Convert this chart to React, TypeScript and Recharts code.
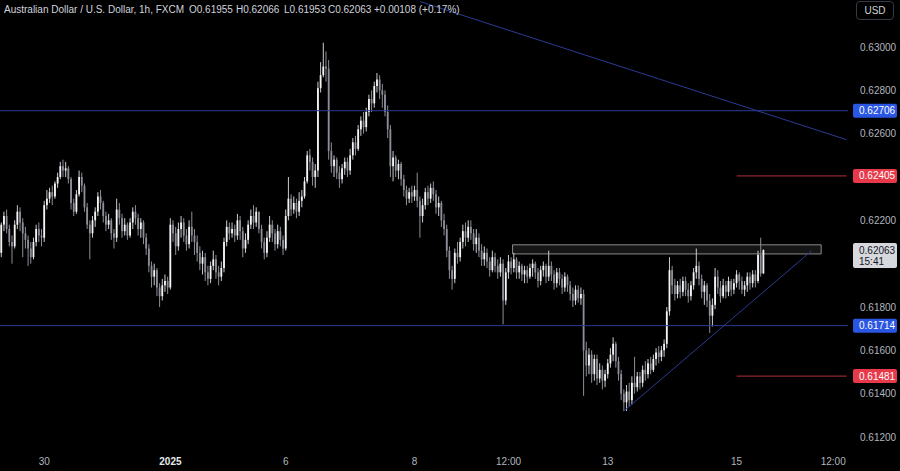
import React from "react";
import { ComposedChart, Bar, XAxis, YAxis, ReferenceLine, ReferenceArea } from "recharts";

// AUD/USD 1h candles (open = previous close)
const FIRST_OPEN = 0.6205;

const closes = [
  0.6218, 0.6222, 0.6216, 0.621, 0.6208, 0.6218, 0.6224, 0.6219, 0.6214, 0.6211,
  0.6207, 0.6203, 0.621, 0.6216, 0.6213, 0.6212, 0.6227, 0.623, 0.6233, 0.6231,
  0.6237, 0.624, 0.6245, 0.6243, 0.6244, 0.6239, 0.6228, 0.6224, 0.6232, 0.624,
  0.6236, 0.6226, 0.6218, 0.6214, 0.622, 0.6224, 0.6231, 0.6228, 0.6222, 0.6218,
  0.622, 0.6214, 0.6212, 0.6225, 0.6221, 0.6215, 0.6218, 0.6213, 0.6219, 0.6224,
  0.6221, 0.6216, 0.6219, 0.6212, 0.6207, 0.6199, 0.6194, 0.6197, 0.6189, 0.6185,
  0.619, 0.6192, 0.6189, 0.6218, 0.6214, 0.6208, 0.6216, 0.6219, 0.6213, 0.6209,
  0.6217, 0.6213, 0.621, 0.6205, 0.62, 0.6203, 0.6196, 0.6193, 0.6199, 0.6202,
  0.6196, 0.6194, 0.6198, 0.621, 0.6217, 0.6214, 0.6216, 0.6213, 0.622, 0.6215,
  0.6207, 0.6211, 0.6218, 0.6222, 0.6219, 0.6224, 0.6216, 0.621, 0.6205, 0.6212,
  0.6218, 0.6214, 0.6209, 0.6215, 0.6211, 0.6207, 0.6222, 0.623, 0.6225, 0.6228,
  0.6224, 0.6229, 0.6231, 0.6238, 0.625, 0.6247, 0.624, 0.6243, 0.6281, 0.6287,
  0.6291, 0.629, 0.6252, 0.6245, 0.6248, 0.6242, 0.6239, 0.6244, 0.6247, 0.6243,
  0.625, 0.6256, 0.6253, 0.6262, 0.6266, 0.6263, 0.627, 0.6276, 0.6274, 0.6282,
  0.6285, 0.628, 0.6278, 0.627, 0.6262, 0.6245, 0.6249, 0.6243, 0.6246, 0.6239,
  0.6234, 0.623, 0.6233, 0.6231, 0.6234, 0.6229, 0.6222, 0.6227, 0.6233, 0.623,
  0.6235, 0.6232, 0.6226, 0.6228, 0.622, 0.6216, 0.6206, 0.6197, 0.6193, 0.6205,
  0.6203, 0.621, 0.6215, 0.6212, 0.6217, 0.6214, 0.6209, 0.6212, 0.6206, 0.6202,
  0.6205, 0.6201, 0.6197, 0.6203, 0.6199, 0.6196, 0.62, 0.6183, 0.6196, 0.6201,
  0.6198, 0.6202, 0.6196, 0.6199, 0.6195, 0.6197, 0.6194, 0.6198, 0.62, 0.6196,
  0.6192, 0.6197, 0.6199, 0.6194, 0.6199, 0.6195, 0.6191, 0.6196, 0.6193, 0.6189,
  0.6194, 0.619, 0.6186, 0.6183, 0.6188, 0.6184, 0.6186, 0.616, 0.6153, 0.6158,
  0.6149, 0.6156, 0.6147, 0.6151, 0.6146, 0.6149, 0.6154, 0.6158, 0.6163, 0.6155,
  0.6149, 0.614, 0.6136, 0.6141, 0.6137, 0.6145, 0.6143, 0.6148, 0.6145, 0.6151,
  0.6149, 0.6154, 0.6151, 0.6156, 0.6159, 0.6157, 0.616, 0.6163, 0.6178, 0.6197,
  0.619, 0.6186, 0.619, 0.6187, 0.6192, 0.6188, 0.6185, 0.619, 0.6196, 0.6199,
  0.6193, 0.6187, 0.619, 0.6183, 0.6176, 0.6181, 0.6194, 0.6189, 0.6185, 0.619,
  0.6187, 0.6192, 0.6188, 0.6191, 0.6195, 0.6192, 0.6188, 0.619, 0.6194, 0.6191,
  0.6195, 0.6192, 0.6204, 0.61955, 0.62063,
];

const highs = [
  0.6219, 0.6224, 0.6225, 0.6218, 0.6213, 0.622, 0.6227, 0.6226, 0.6221, 0.6217,
  0.6213, 0.621, 0.6212, 0.6218, 0.6219, 0.6216, 0.6229, 0.6234, 0.6235, 0.6236,
  0.6238, 0.6242, 0.6247, 0.6248, 0.6247, 0.6245, 0.624, 0.623, 0.6234, 0.6243,
  0.6242, 0.6237, 0.6228, 0.622, 0.6222, 0.6226, 0.6233, 0.6234, 0.6229, 0.6224,
  0.6223, 0.6221, 0.6216, 0.623, 0.6228, 0.6223, 0.6221, 0.6219, 0.6221, 0.6226,
  0.6227, 0.6223, 0.6221, 0.622, 0.6214, 0.6209, 0.6201, 0.62, 0.6198, 0.6191,
  0.6193, 0.6195, 0.6194, 0.6221, 0.622, 0.6217, 0.6219, 0.6222, 0.6221, 0.6216,
  0.622, 0.6224, 0.6216, 0.6213, 0.6208, 0.6206, 0.6205, 0.6199, 0.6201, 0.6206,
  0.6204, 0.6199, 0.6201, 0.6212, 0.622, 0.6219, 0.6219, 0.6218, 0.6223, 0.6222,
  0.6217, 0.6214, 0.622, 0.6225, 0.6227, 0.6226, 0.6224, 0.6218, 0.6212, 0.6215,
  0.6222, 0.622, 0.6216, 0.6218, 0.6217, 0.6213, 0.6225, 0.624, 0.6232, 0.6231,
  0.623, 0.6233, 0.6234, 0.624, 0.6252, 0.6253, 0.6249, 0.6246, 0.6284, 0.6293,
  0.6302, 0.6298, 0.6294, 0.6256, 0.625, 0.6249, 0.6245, 0.6246, 0.6249, 0.6249,
  0.6253, 0.6258, 0.6259, 0.6264, 0.6268, 0.627, 0.6272, 0.6278, 0.628, 0.6284,
  0.6288, 0.6287, 0.6283, 0.628, 0.6273, 0.6264, 0.6252, 0.625, 0.6248, 0.6247,
  0.6241, 0.6236, 0.6235, 0.6236, 0.6236, 0.6242, 0.6231, 0.623, 0.6235, 0.6236,
  0.6237, 0.6238, 0.6234, 0.6231, 0.6229, 0.6223, 0.6218, 0.6208, 0.6199, 0.6207,
  0.621, 0.6212, 0.6218, 0.6219, 0.622, 0.622, 0.6216, 0.6216, 0.6214, 0.6209,
  0.6208, 0.6207, 0.6203, 0.6206, 0.6205, 0.6202, 0.6203, 0.6202, 0.6198, 0.6204,
  0.6203, 0.6205, 0.6203, 0.6201, 0.62, 0.6199, 0.6199, 0.62, 0.6202, 0.6201,
  0.6198, 0.6199, 0.6201, 0.62, 0.6206, 0.6201, 0.6197, 0.6198, 0.6198, 0.6195,
  0.6196, 0.6195, 0.6192, 0.6189, 0.619, 0.619, 0.6189, 0.6188, 0.6164, 0.6161,
  0.616, 0.6158, 0.6158, 0.6154, 0.6153, 0.6151, 0.6156, 0.6161, 0.6166, 0.6164,
  0.6157, 0.6151, 0.6142, 0.6144, 0.6145, 0.6148, 0.6157, 0.615, 0.615, 0.6153,
  0.6155, 0.6156, 0.6157, 0.6158, 0.6161, 0.6162, 0.6162, 0.6165, 0.618, 0.6203,
  0.6199, 0.6193, 0.6192, 0.6193, 0.6194, 0.6194, 0.6191, 0.6192, 0.6198, 0.6207,
  0.6201, 0.6195, 0.6192, 0.6191, 0.6186, 0.6184, 0.6198, 0.6197, 0.6192, 0.6193,
  0.6192, 0.6194, 0.6193, 0.6193, 0.6197, 0.6196, 0.6194, 0.6192, 0.6196, 0.6196,
  0.6197, 0.6197, 0.6206, 0.6212, 0.62066,
];

const lows = [
  0.6203, 0.6215, 0.6214, 0.6208, 0.62, 0.6207, 0.6216, 0.6215, 0.6203, 0.6207,
  0.6199, 0.62, 0.6202, 0.6208, 0.621, 0.6208, 0.621, 0.6225, 0.6228, 0.6227,
  0.623, 0.6235, 0.6239, 0.624, 0.624, 0.6237, 0.6225, 0.6222, 0.6223, 0.6231,
  0.6233, 0.6224, 0.6216, 0.6202, 0.6212, 0.6217, 0.6222, 0.6225, 0.6219, 0.6215,
  0.6216, 0.6211, 0.6207, 0.621, 0.6218, 0.6212, 0.6213, 0.6211, 0.6212, 0.6216,
  0.6218, 0.6213, 0.6212, 0.6209, 0.6204, 0.6196, 0.6189, 0.619, 0.6185, 0.618,
  0.6183, 0.6187, 0.6186, 0.6188, 0.621, 0.6204, 0.6206, 0.6212, 0.621, 0.6206,
  0.6207, 0.621, 0.6204, 0.6201, 0.6197, 0.6195, 0.6192, 0.619, 0.6191, 0.6197,
  0.6193, 0.619, 0.6192, 0.6196, 0.6208, 0.6211, 0.6212, 0.621, 0.6211, 0.6211,
  0.6203, 0.6205, 0.6209, 0.6216, 0.6216, 0.6217, 0.6214, 0.6207, 0.6202, 0.6203,
  0.621, 0.621, 0.6206, 0.6207, 0.6208, 0.6204, 0.6206, 0.622, 0.6222, 0.6223,
  0.6221, 0.6222, 0.6226, 0.623, 0.6237, 0.6243, 0.6236, 0.6235, 0.624, 0.6279,
  0.6286, 0.6284, 0.6248, 0.6242, 0.624, 0.6239, 0.6235, 0.6237, 0.6241, 0.624,
  0.6241, 0.6248, 0.625, 0.6252, 0.6259, 0.626, 0.6261, 0.6268, 0.627, 0.6272,
  0.6279, 0.6276, 0.6272, 0.6268, 0.6258, 0.624, 0.6238, 0.624, 0.6239, 0.6236,
  0.6231, 0.6227, 0.6228, 0.6228, 0.6229, 0.6226, 0.6212, 0.6219, 0.6225, 0.6227,
  0.6228, 0.6229, 0.6223, 0.6222, 0.6217, 0.6213, 0.6203, 0.6193, 0.6188, 0.6191,
  0.62, 0.6201, 0.6207, 0.6208, 0.621, 0.6211, 0.6206, 0.6205, 0.6203, 0.6199,
  0.6199, 0.6198, 0.6194, 0.6196, 0.6196, 0.6193, 0.6194, 0.6172, 0.6181, 0.6193,
  0.6195, 0.6196, 0.6193, 0.6193, 0.6192, 0.6191, 0.6191, 0.6193, 0.6194, 0.6193,
  0.6189, 0.619, 0.6194, 0.6191, 0.6192, 0.6192, 0.6188, 0.6189, 0.619, 0.6186,
  0.6187, 0.6187, 0.6183, 0.618, 0.6181, 0.6182, 0.6181, 0.6139, 0.6148, 0.6149,
  0.6145, 0.6146, 0.6144, 0.6145, 0.6142, 0.6143, 0.6147, 0.6152, 0.6155, 0.6152,
  0.6146, 0.6137, 0.6132, 0.6132, 0.6134, 0.6135, 0.614, 0.6141, 0.6142, 0.6143,
  0.6146, 0.6147, 0.6149, 0.615, 0.6153, 0.6154, 0.6155, 0.6157, 0.6161, 0.6176,
  0.6186, 0.6183, 0.6184, 0.6184, 0.6185, 0.6185, 0.6182, 0.6183, 0.6188, 0.6193,
  0.619, 0.6184, 0.6181, 0.618, 0.6168, 0.6171, 0.6179, 0.6186, 0.6182, 0.6184,
  0.6184, 0.6185, 0.6185, 0.6186, 0.6189, 0.6188, 0.6186, 0.6185, 0.6187, 0.6188,
  0.6189, 0.6189, 0.6191, 0.6194, 0.61953,
];

// hourly slots on screen, including the empty space right of the last bar
const SLOTS = 316;

const xTickIdx = [16, 63, 106, 154, 189, 226, 274, 310];
const xTickLabels = ["30", "2025", "6", "8", "12:00", "13", "15", "12:00"];
const yTicks = [0.63, 0.628, 0.626, 0.622, 0.618, 0.616, 0.614, 0.612];

const blueLevels = [0.62706, 0.61714];
const redLevels = [0.62405, 0.61481];
const lastPrice = 0.62063;
const countdown = "15:41";

const header = [
  { x: 4, text: "Australian Dollar / U.S. Dollar, 1h, FXCM" },
  { x: 189, text: "O0.61955" },
  { x: 236, text: "H0.62066" },
  { x: 284, text: "L0.61953" },
  { x: 328, text: "C0.62063" },
  { x: 374, text: "+0.00108 (+0.17%)" },
];

const FONT = "'Liberation Sans', Arial, sans-serif";
const LINE_BLUE = "#2b3a94";
const LINE_RED = "#b3303b";

const data = Array.from({ length: SLOTS }, (_, i) => {
  if (i >= closes.length) return { i };
  const o = i === 0 ? FIRST_OPEN : closes[i - 1];
  return { i, o, h: highs[i], l: lows[i], c: closes[i], range: [lows[i], highs[i]] };
});

function Candle(props: any) {
  const { x, y, width, height, payload } = props;
  if (!payload || payload.c == null) return null;
  const { o, h, l, c } = payload;
  const top = Math.min(y, y + height);
  const span = Math.abs(height);
  const cx = x + width / 2;
  const k = h === l ? 0 : span / (h - l);
  const py = (v: number) => top + (h - v) * k;
  const bTop = py(Math.max(o, c));
  const bBot = py(Math.min(o, c));
  const up = c >= o;
  const bw = 1.8;
  return (
    <g>
      <line x1={cx} x2={cx} y1={top} y2={top + span} stroke={up ? "#c9cbd1" : "#8c8f98"} strokeWidth={1} />
      <rect x={cx - bw / 2} y={bTop} width={bw} height={Math.max(1, bBot - bTop)} fill={up ? "#f4f4f4" : "#8c8f98"} />
    </g>
  );
}

function XTick(props: any) {
  const { x, payload } = props;
  const label = xTickLabels[xTickIdx.indexOf(payload.value)];
  const strong = label === "2025";
  return (
    <text x={x} y={465} textAnchor="middle" fontSize={10} fontFamily={FONT}
      fontWeight={strong ? 700 : 400} fill={strong ? "#e6e8ee" : "#b2b5be"}>
      {label}
    </text>
  );
}

function YTick(props: any) {
  const { y, payload } = props;
  return (
    <text x={860} y={y + 3.5} fontSize={10} fontFamily={FONT} fill="#b2b5be">
      {Number(payload.value).toFixed(5)}
    </text>
  );
}

function PriceTag(props: any) {
  const { viewBox, text, sub, bg, color } = props;
  if (!viewBox) return null;
  const y = viewBox.y;
  const x = viewBox.x + viewBox.width + 5;
  return (
    <g>
      <rect x={x} y={y - 7} width={44} height={sub ? 25 : 14} rx={2} fill={bg} />
      <text x={x + 6} y={y + 3.5} fontSize={10} fontFamily={FONT} fill={color}>{text}</text>
      {sub && (
        <text x={x + 6} y={y + 14.5} fontSize={10} fontFamily={FONT} fill={color}>{sub}</text>
      )}
    </g>
  );
}

export default function App() {
  return (
    <div style={{ position: "absolute", left: 0, top: 0, width: 900, height: 471, background: "#000", overflow: "hidden" }}>
      <ComposedChart width={900} height={471} data={data} margin={{ top: 0, right: 0, bottom: 0, left: 0 }}>
        <XAxis dataKey="i" type="category" ticks={xTickIdx} interval={0} height={21}
          axisLine={false} tickLine={false} tick={<XTick />} />
        <YAxis orientation="right" type="number" domain={[0.6114, 0.63217]} allowDataOverflow
          ticks={yTicks} interval={0} width={52} axisLine={false} tickLine={false} tick={<YTick />} />

        {blueLevels.map((v) => (
          <ReferenceLine key={"b" + v} y={v} stroke={LINE_BLUE} strokeWidth={1} />
        ))}
        {redLevels.map((v) => (
          <ReferenceLine key={"r" + v} segment={[{ x: 274, y: v }, { x: SLOTS - 1, y: v }]} stroke={LINE_RED} strokeWidth={1} />
        ))}

        {/* descending trendline from the highs */}
        <ReferenceLine segment={[{ x: 156, y: 0.6321 }, { x: SLOTS - 1, y: 0.62572 }]} stroke={LINE_BLUE} strokeWidth={1} />
        {/* ascending trendline from the 13th low */}
        <ReferenceLine segment={[{ x: 232, y: 0.6132 }, { x: 302, y: 0.6206 }]} stroke={LINE_BLUE} strokeWidth={1} />

        <Bar dataKey="range" shape={<Candle />} isAnimationActive={false} />

        <ReferenceArea x1={191} x2={305} y1={0.62045} y2={0.62087} fill="#3c3c3c" fillOpacity={0.35}
          stroke="#8a8a8a" strokeWidth={1} />

        {blueLevels.map((v) => (
          <ReferenceLine key={"bt" + v} y={v} strokeOpacity={0}
            label={<PriceTag text={v.toFixed(5)} bg="#2a56e3" color="#ffffff" />} />
        ))}
        {redLevels.map((v) => (
          <ReferenceLine key={"rt" + v} y={v} strokeOpacity={0}
            label={<PriceTag text={v.toFixed(5)} bg="#e8394a" color="#ffffff" />} />
        ))}
        <ReferenceLine y={lastPrice} strokeOpacity={0}
          label={<PriceTag text={lastPrice.toFixed(5)} sub={countdown} bg="#d6d8dd" color="#131722" />} />
      </ComposedChart>

      {header.map((h) => (
        <div key={h.x} style={{ position: "absolute", left: h.x, top: 4, fontSize: 10, fontFamily: FONT, color: "#d1d4dc", whiteSpace: "nowrap", lineHeight: "12px" }}>
          {h.text}
        </div>
      ))}
      <div style={{ position: "absolute", left: 856, top: 1, width: 38, height: 19, border: "1px solid #363a45", borderRadius: 4,
        boxSizing: "border-box", color: "#d1d4dc", fontSize: 10, fontFamily: FONT, textAlign: "center", lineHeight: "17px" }}>
        USD
      </div>
    </div>
  );
}
